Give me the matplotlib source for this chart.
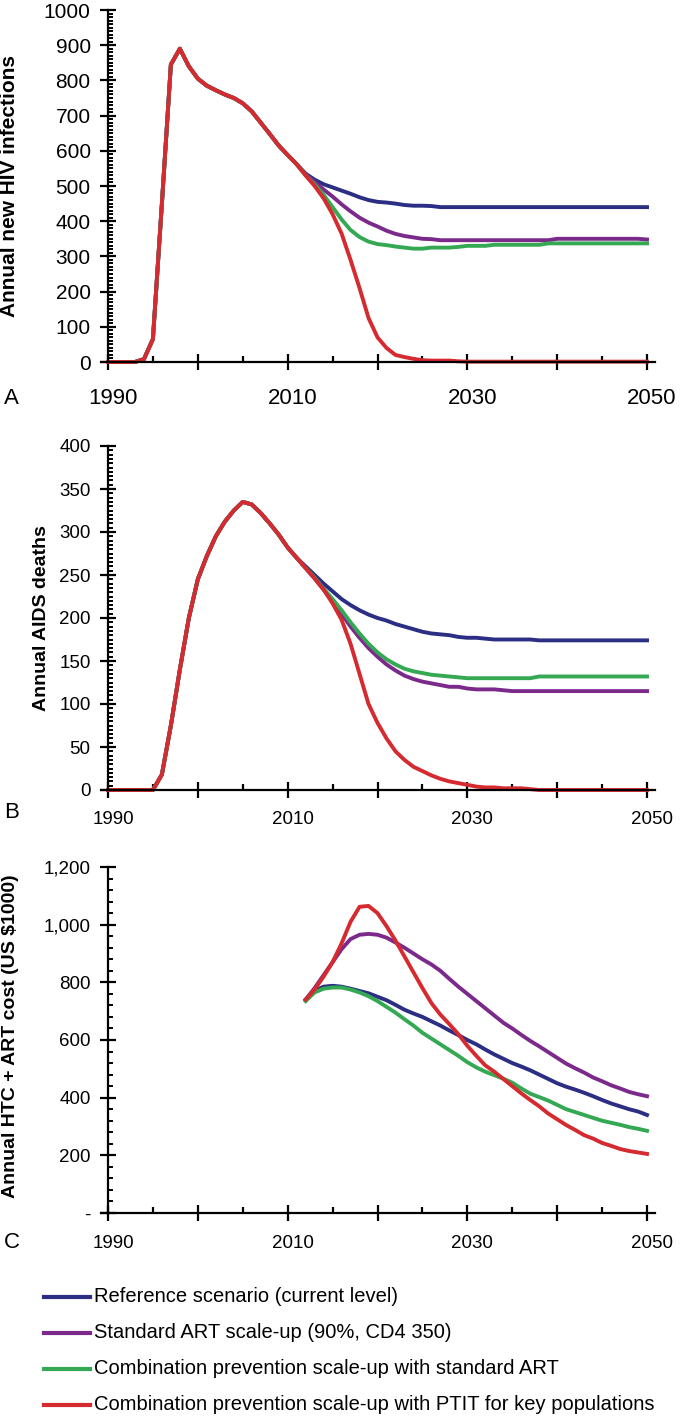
import numpy as np
import matplotlib
matplotlib.use('Agg')
import matplotlib.pyplot as plt
import matplotlib.transforms as mtrans
from matplotlib.ticker import MultipleLocator
from matplotlib.lines import Line2D

plt.rcParams['font.family'] = ['Liberation Sans', 'DejaVu Sans']

W, H = 681, 1416

# ---- data ----
scenarios = ['Reference scenario (current level)',
             'Standard ART scale-up (90%, CD4 350)',
             'Combination prevention scale-up with standard ART',
             'Combination prevention scale-up with PTIT for key populations']
colors = ['#2B2E83', '#7B2A8B', '#35A853', '#D52B30']

hist_years = np.arange(1990, 2012)
proj_years = np.arange(2012, 2051)

# panel A: annual new HIV infections
inf_hist = [0, 0, 0, 0, 8, 65, 450, 845, 890, 840, 805, 785, 772, 760, 750, 735,
            712, 680, 648, 615, 588, 562]
inf_ref = [535, 518, 505, 496, 487, 478, 468, 460, 455, 453, 450, 446, 444, 444, 443, 440,
           440, 440, 440, 440, 440, 440, 440, 440, 440, 440, 440, 440, 440, 440, 440, 440,
           440, 440, 440, 440, 440, 440, 440]
inf_art = [533, 512, 490, 470, 448, 428, 410, 396, 385, 373, 364, 358, 354, 350, 349, 346,
           346, 346, 346, 346, 346, 346, 346, 346, 346, 346, 346, 346, 350, 350, 350, 350,
           350, 350, 350, 350, 350, 350, 348]
inf_comb = [530, 505, 475, 440, 405, 375, 355, 342, 335, 332, 328, 325, 322, 322, 325, 325,
            325, 327, 330, 330, 330, 333, 333, 333, 333, 333, 333, 337, 337, 337, 337, 337,
            337, 337, 337, 337, 337, 337, 337]
inf_ptit = [530, 500, 465, 420, 365, 290, 210, 125, 70, 40, 20, 14, 9, 5, 4, 4,
            4, 2, 1, 1, 1, 1, 1, 1, 1, 1, 1, 1, 1, 1, 1, 1,
            1, 1, 1, 1, 1, 1, 1]

# panel B: annual AIDS deaths
dth_hist = [0, 0, 0, 0, 0, 0, 18, 75, 140, 200, 245, 272, 295, 312, 325, 335,
            332, 322, 310, 297, 282, 270]
dth_ref = [260, 250, 240, 231, 222, 215, 209, 204, 200, 197, 193, 190, 187, 184, 182, 181,
           180, 178, 177, 177, 176, 175, 175, 175, 175, 175, 174, 174, 174, 174, 174, 174,
           174, 174, 174, 174, 174, 174, 174]
dth_art = [258, 246, 233, 220, 205, 190, 177, 165, 155, 146, 139, 133, 129, 126, 124, 122,
           120, 120, 118, 117, 117, 117, 116, 115, 115, 115, 115, 115, 115, 115, 115, 115,
           115, 115, 115, 115, 115, 115, 115]
dth_comb = [258, 247, 234, 222, 209, 195, 182, 170, 160, 152, 146, 141, 138, 136, 134, 133,
            132, 131, 130, 130, 130, 130, 130, 130, 130, 130, 132, 132, 132, 132, 132, 132,
            132, 132, 132, 132, 132, 132, 132]
dth_ptit = [258, 246, 233, 217, 198, 170, 135, 100, 78, 60, 45, 35, 27, 22, 17, 13,
            10, 8, 6, 4, 3, 3, 2, 2, 2, 1, 0, 0, 0, 0, 0, 0,
            0, 0, 0, 0, 0, 0, 0]

# panel C: annual HTC + ART cost
cost_ref = [740, 770, 785, 788, 785, 778, 770, 762, 750, 738, 722, 705, 692, 680, 665, 650,
            633, 617, 600, 585, 567, 550, 535, 520, 508, 495, 480, 465, 450, 438, 428, 417,
            405, 392, 380, 370, 360, 352, 340]
cost_art = [740, 780, 825, 870, 915, 950, 965, 968, 965, 955, 938, 920, 900, 880, 862, 840,
            812, 785, 760, 735, 710, 685, 660, 640, 618, 597, 578, 558, 538, 518, 502, 487,
            470, 457, 443, 432, 420, 412, 405]
cost_comb = [735, 765, 778, 782, 782, 775, 765, 752, 735, 715, 695, 672, 650, 625, 605, 585,
             565, 545, 523, 505, 490, 478, 466, 452, 432, 414, 402, 390, 375, 360, 350, 340,
             330, 320, 313, 306, 298, 292, 285]
cost_ptit = [740, 775, 820, 870, 935, 1010, 1062, 1065, 1040, 995, 945, 890, 835, 780, 728, 688,
             655, 620, 580, 545, 512, 490, 465, 440, 415, 392, 370, 345, 325, 305, 288, 270,
             258, 243, 233, 222, 215, 210, 205]

year_labels = [1990, 2010, 2030, 2050]
cost_ticks = [0, 200, 400, 600, 800, 1000, 1200]
cost_ticklabels = ['-', '200', '400', '600', '800', '1,000', '1,200']


def px_axes(top, bottom):
    # axes rectangle from pixel rows, x range fixed
    left, right = 100.8, 655.1
    return [left / W, 1 - bottom / H, (right - left) / W, (bottom - top) / H]


def style_axes(ax, ymax, ymajor, yminor, fs):
    ax.set_xlim(1989.2, 2050.9)
    ax.set_ylim(0, ymax)
    ax.spines['top'].set_visible(False)
    ax.spines['right'].set_visible(False)
    ax.spines['left'].set_position(('data', 1990))
    for s in ['left', 'bottom']:
        ax.spines[s].set_linewidth(1.6)
    ax.xaxis.set_major_locator(MultipleLocator(10))
    ax.xaxis.set_minor_locator(MultipleLocator(5))
    ax.yaxis.set_major_locator(MultipleLocator(ymajor))
    ax.yaxis.set_minor_locator(MultipleLocator(yminor))
    ax.tick_params(axis='x', which='major', direction='inout', length=12, width=1.6,
                   labelbottom=False)
    ax.tick_params(axis='x', which='minor', direction='in', length=4, width=1.6)
    ax.tick_params(axis='y', which='major', direction='inout', length=11, width=1.6,
                   labelsize=fs, pad=7)
    ax.tick_params(axis='y', which='minor', direction='in', length=3.5, width=1.4)
    ax.patch.set_alpha(0)


fig = plt.figure(figsize=(W / 100, H / 100), dpi=100)

panels = [
    (10, 362, 1000, 100, 10, 15, 16, 36,
     [inf_ref, inf_art, inf_comb, inf_ptit], inf_hist),
    (446, 790, 400, 50, 5, 13.5, 13.5, 29,
     [dth_ref, dth_art, dth_comb, dth_ptit], dth_hist),
    (867, 1213, 1200, 200, 40, 13.5, 13.5, 30,
     [cost_ref, cost_art, cost_comb, cost_ptit], None),
]

for top, bottom, ymax, ymaj, ymin, fs, xfs, lab_off, series, hist in panels:
    ax = fig.add_axes(px_axes(top, bottom))
    style_axes(ax, ymax, ymaj, ymin, fs)
    for vals, c in zip(series, colors):
        if hist is not None:
            x = np.concatenate([hist_years, proj_years])
            y = np.concatenate([hist, vals])
        else:
            x, y = proj_years, np.array(vals)
        ax.plot(x, y, color=c, lw=2.8, clip_on=False, solid_joinstyle='round')
    if hist is None:
        ax.set_yticks(cost_ticks)
        ax.set_yticklabels(cost_ticklabels)
    t = mtrans.offset_copy(ax.get_xaxis_transform(), fig=fig, x=5, y=-lab_off, units='dots')
    for yr in year_labels:
        ax.text(yr, 0, str(yr), transform=t, ha='center', va='center', fontsize=xfs)

# y-axis titles
fig.text(10 / W, 1 - 186 / H, 'Annual new HIV infections', rotation=90, ha='center',
         va='center', fontsize=15, fontweight='bold')
fig.text(42 / W, 1 - 618 / H, 'Annual AIDS deaths', rotation=90, ha='center',
         va='center', fontsize=14, fontweight='bold')
fig.text(11 / W, 1 - 1036 / H, 'Annual HTC + ART cost (US $1000)', rotation=90, ha='center',
         va='center', fontsize=14, fontweight='bold')

# panel letters
for letter, ypx in zip(['A', 'B', 'C'], [398, 812, 1243]):
    fig.text(4 / W, 1 - ypx / H, letter, ha='left', va='center', fontsize=16)

# legend
for i, (name, c) in enumerate(zip(scenarios, colors)):
    ypx = 1297 + i * 36
    fig.add_artist(Line2D([44 / W, 90 / W], [1 - ypx / H, 1 - ypx / H], color=c, lw=3))
    fig.text(94 / W, 1 - ypx / H, name, ha='left', va='center', fontsize=14.5)

fig.savefig('out.png', dpi=100)
